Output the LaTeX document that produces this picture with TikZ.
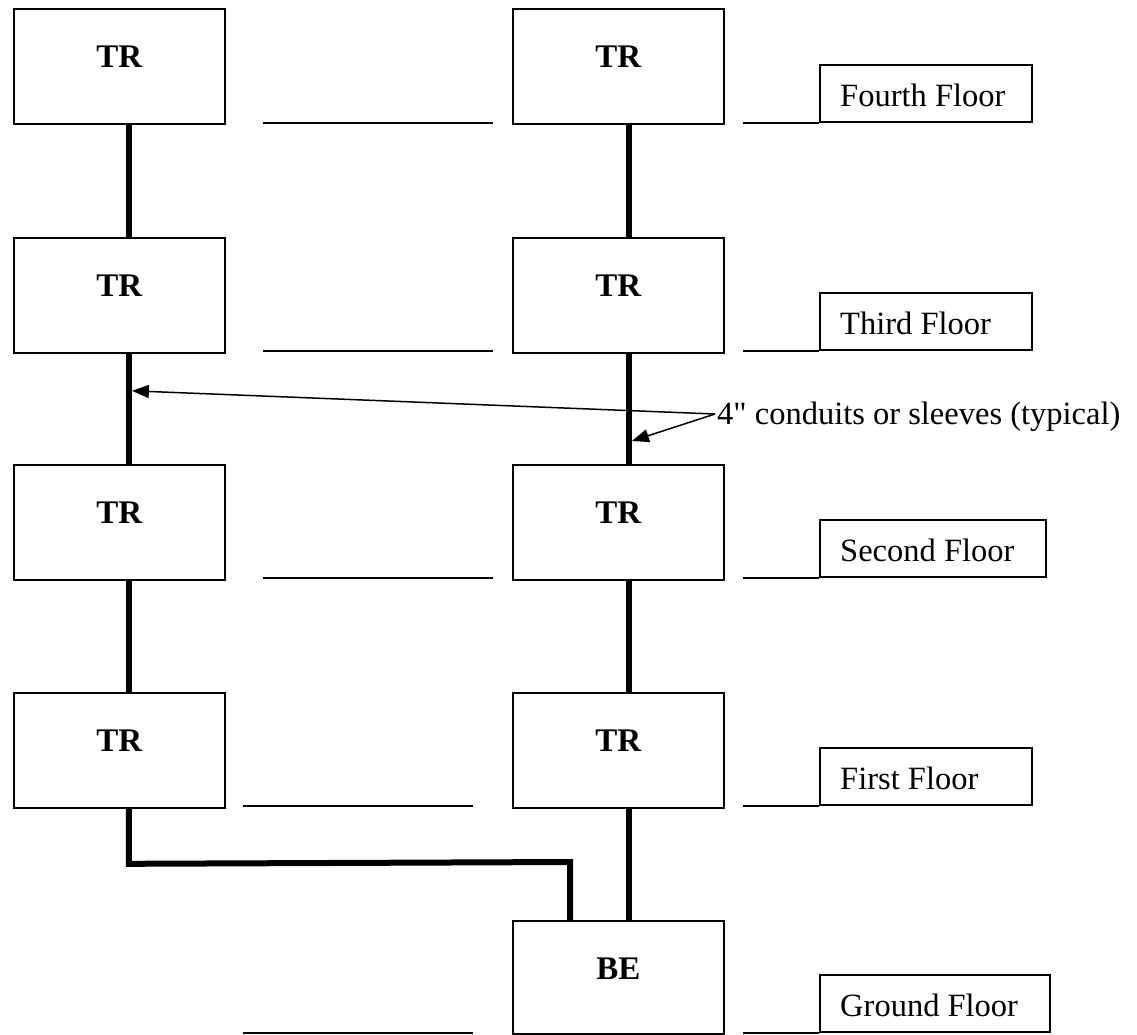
\documentclass[tikz,border=0pt]{standalone}
\usepackage{fontspec}
\setmainfont{Liberation Serif}[Ligatures=TeXOff]
\usetikzlibrary{calc,arrows.meta}
\begin{document}
\begin{tikzpicture}[x=1pt,y=-1pt,
  room/.style={draw,line width=1.8pt,minimum width=211pt,minimum height=115pt,inner sep=0pt,anchor=north west},
  roomtext/.style={font=\fontsize{33}{39}\selectfont\bfseries,inner sep=0pt},
  floorbox/.style={draw,line width=1.8pt,minimum height=57pt,inner sep=0pt,anchor=south west},
  floortext/.style={font=\fontsize{32.5}{39}\selectfont,inner sep=0pt,anchor=west},
  riser/.style={line width=6pt,line join=miter},
  tie/.style={line width=2pt},
  callout/.style={line width=1.5pt,-{Triangle[length=17pt,width=13pt]}}
]
\useasboundingbox (0,0) rectangle (1137,1034);
% rooms
\node[room] (l1) at (13,8) {};
\node[room] (l2) at (13,237) {};
\node[room] (l3) at (13,464) {};
\node[room] (l4) at (13,692) {};
\node[room] (r1) at (512,8) {};
\node[room] (r2) at (512,237) {};
\node[room] (r3) at (512,464) {};
\node[room] (r4) at (512,692) {};
\node[room,minimum height=113pt] (be) at (512,920) {};
\foreach \n in {l1,l2,l3,l4,r1,r2,r3,r4}{
  \node[roomtext] (\n t) at ($(\n.north)+(0,49)$) {TR};
}
\node[roomtext] (bet) at ($(be.north)+(0,49)$) {BE};
% floor label boxes
\node[floorbox,minimum width=212pt] (f4) at (819,123) {};
\node[floorbox,minimum width=212pt] (f3) at (819,351) {};
\node[floorbox,minimum width=226pt] (f2) at (819,578) {};
\node[floorbox,minimum width=212pt] (f1) at (819,806) {};
\node[floorbox,minimum width=230pt] (f0) at (819,1033) {};
\node[floortext] (f4t) at ($(f4.west)+(21,2)$) {Fourth Floor};
\node[floortext] (f3t) at ($(f3.west)+(21,2)$) {Third Floor};
\node[floortext] (f2t) at ($(f2.west)+(21,2)$) {Second Floor};
\node[floortext] (f1t) at ($(f1.west)+(21,2)$) {First Floor};
\node[floortext] (f0t) at ($(f0.west)+(21,2)$) {Ground Floor};
% free line ends
\coordinate (a4) at (263,123); \coordinate (b4) at (493,123);
\coordinate (a3) at (263,351); \coordinate (b3) at (493,351);
\coordinate (a2) at (263,578); \coordinate (b2) at (493,578);
\coordinate (a1) at (243,806); \coordinate (b1) at (473,806);
\coordinate (a0) at (243,1033); \coordinate (b0) at (473,1033);
\coordinate (c4) at (743,123);
\coordinate (c3) at (743,351);
\coordinate (c2) at (743,578);
\coordinate (c1) at (743,806);
\coordinate (c0) at (743,1033);
\foreach \i in {0,...,4}{
  \draw[tie] (a\i) -- (b\i);
  \draw[tie] (c\i) -- (f\i.south west);
}
% risers
\draw[riser] ($(l1.south)+(9.5,0)$) -- ($(l2.north)+(9.5,0)$);
\draw[riser] ($(l2.south)+(9.5,0)$) -- ($(l3.north)+(9.5,0)$);
\draw[riser] ($(l3.south)+(9.5,0)$) -- ($(l4.north)+(9.5,0)$);
\draw[riser] ($(r1.south)+(10.5,0)$) -- ($(r2.north)+(10.5,0)$);
\draw[riser] ($(r2.south)+(10.5,0)$) -- ($(r3.north)+(10.5,0)$);
\draw[riser] ($(r3.south)+(10.5,0)$) -- ($(r4.north)+(10.5,0)$);
\draw[riser] ($(r4.south)+(10.5,0)$) -- ($(be.north)+(10.5,0)$);
\draw[riser] ($(l4.south)+(9.5,0)$) -- ($(l4.south)+(9.5,55)$) -- ($(be.north west)+(58,-58)$) -- ($(be.north west)+(58,0)$);
% callout
\node[font=\fontsize{32.5}{39}\selectfont,inner sep=0pt,anchor=base west] (note) at (717,424) {4" conduits or sleeves (typical)};
\coordinate (cs) at (715,414);
\draw[callout] (cs) -- ($(l2.south)+(12.5,37)$);
\draw[callout] (cs) -- ($(r3.north)+(13.5,-23)$);
\end{tikzpicture}
\end{document}
